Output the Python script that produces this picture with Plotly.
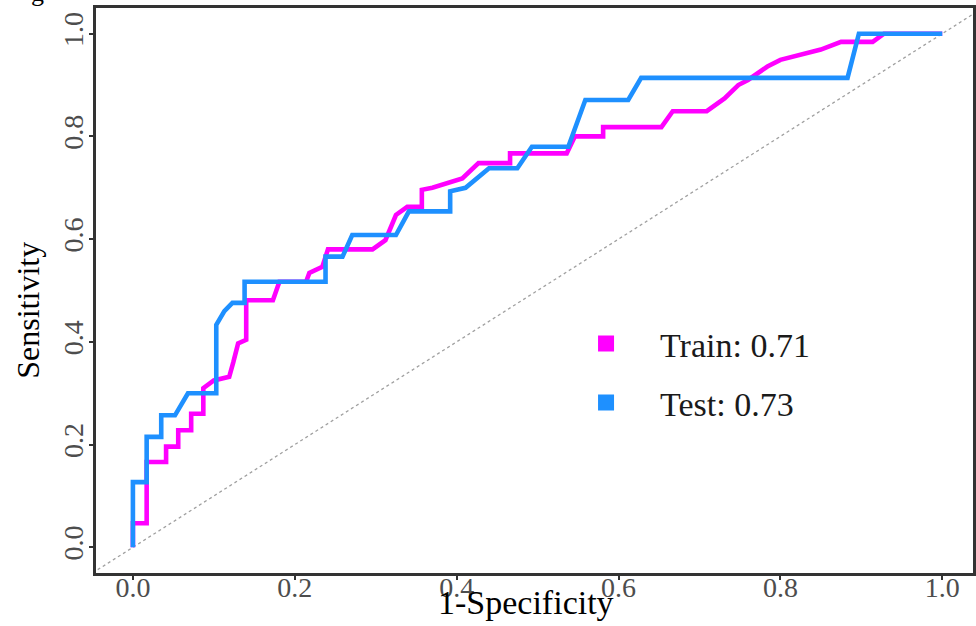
import plotly.graph_objects as go

# ---- data ----
train_fpr = [0.0, 0.0, 0.017, 0.017, 0.041, 0.041, 0.056, 0.056, 0.072, 0.072, 0.087, 0.087,
             0.100, 0.119, 0.124, 0.130, 0.140, 0.140, 0.173, 0.179, 0.181, 0.214, 0.218, 0.234,
             0.241, 0.296, 0.312, 0.325, 0.339, 0.357, 0.357, 0.370, 0.407, 0.427, 0.466, 0.466,
             0.536, 0.546, 0.581, 0.581, 0.653, 0.667, 0.709, 0.731, 0.748, 0.760, 0.784, 0.800,
             0.825, 0.850, 0.875, 0.914, 0.928, 1.0]
train_tpr = [0.0, 0.047, 0.047, 0.166, 0.166, 0.196, 0.196, 0.228, 0.228, 0.260, 0.260, 0.310,
             0.325, 0.332, 0.360, 0.397, 0.404, 0.481, 0.481, 0.507, 0.517, 0.517, 0.534, 0.546,
             0.580, 0.580, 0.598, 0.647, 0.663, 0.663, 0.696, 0.700, 0.718, 0.748, 0.748, 0.767,
             0.767, 0.800, 0.800, 0.818, 0.818, 0.849, 0.849, 0.874, 0.900, 0.910, 0.936, 0.949,
             0.959, 0.969, 0.984, 0.984, 1.0, 1.0]

test_fpr = [0.0, 0.0, 0.017, 0.017, 0.035, 0.035, 0.052, 0.068, 0.103, 0.103, 0.113, 0.123,
            0.138, 0.138, 0.238, 0.238, 0.259, 0.271, 0.325, 0.341, 0.392, 0.392, 0.411, 0.440,
            0.475, 0.493, 0.538, 0.559, 0.612, 0.628, 0.883, 0.897, 1.0]
test_tpr = [0.0, 0.127, 0.127, 0.215, 0.215, 0.257, 0.257, 0.300, 0.300, 0.433, 0.460, 0.476,
            0.476, 0.517, 0.517, 0.566, 0.566, 0.608, 0.608, 0.654, 0.654, 0.693, 0.700, 0.738,
            0.738, 0.780, 0.780, 0.871, 0.871, 0.914, 0.914, 1.0, 1.0]

ref_line = [-0.2, 1.2]
tick_vals = [0.0, 0.2, 0.4, 0.6, 0.8, 1.0]
tick_text = ["0.0", "0.2", "0.4", "0.6", "0.8", "1.0"]
train_label = "Train: 0.71"
test_label = "Test: 0.73"
x_title = "1-Specificity"
y_title = "Sensitivity"
panel_label = "g"

# ---- style ----
SERIF = "Liberation Serif, Times New Roman, serif"
MAGENTA = "#FF00FF"
BLUE = "#1E90FF"

fig = go.Figure()
fig.add_trace(go.Scatter(x=ref_line, y=ref_line, mode="lines",
                         line=dict(color="#a0a0a0", width=1.3, dash="dot"),
                         showlegend=False, hoverinfo="skip"))
fig.add_trace(go.Scatter(x=train_fpr, y=train_tpr, mode="lines",
                         line=dict(color=MAGENTA, width=4.6), showlegend=False, name=train_label))
fig.add_trace(go.Scatter(x=test_fpr, y=test_tpr, mode="lines",
                         line=dict(color=BLUE, width=4.6), showlegend=False, name=test_label))
# legend keys (square swatches)
fig.add_trace(go.Scatter(x=[None], y=[None], mode="markers", name=train_label, legendgroup="a",
                         marker=dict(symbol="square", size=16, color=MAGENTA)))
fig.add_trace(go.Scatter(x=[None], y=[None], mode="markers", name=test_label, legendgroup="b",
                         marker=dict(symbol="square", size=16, color=BLUE)))

axis_common = dict(
    showgrid=False, zeroline=False, showline=True, mirror=True,
    linecolor="#333333", linewidth=2.5,
    ticks="outside", ticklen=4, tickwidth=1.5, tickcolor="#333333",
    tickvals=tick_vals, ticktext=tick_text,
    tickfont=dict(family=SERIF, size=28, color="#4d4d4d"),
)

fig.update_layout(
    width=976, height=626,
    margin=dict(l=96, r=0, t=8, b=53),
    paper_bgcolor="white", plot_bgcolor="white",
    xaxis=dict(range=[-0.0456, 1.038], ticklabelstandoff=-16, **axis_common),
    yaxis=dict(range=[-0.05, 1.05], tickangle=-90, ticklabelstandoff=-5, **axis_common),
    legend=dict(x=0.52, y=0.457, xanchor="left", yanchor="top",
                font=dict(family=SERIF, size=34, color="#1a1a1a"),
                bgcolor="rgba(0,0,0,0)", tracegroupgap=12, itemwidth=98),
    annotations=[
        dict(text=x_title, xref="paper", yref="paper", x=0.49, y=-0.053,
             xanchor="center", yanchor="middle", showarrow=False,
             font=dict(family=SERIF, size=34, color="black")),
        dict(text=y_title, xref="paper", yref="paper", x=-0.077, y=0.465,
             xanchor="center", yanchor="middle", textangle=-90, showarrow=False,
             font=dict(family=SERIF, size=32, color="black")),
        dict(text=panel_label, xref="paper", yref="paper", x=-0.067, y=1.0,
             xanchor="center", yanchor="bottom", yshift=-1, showarrow=False,
             font=dict(family=SERIF, size=26, color="black")),
    ],
)

fig.write_html("out.html", config={"displayModeBar": False},
               post_script="document.body.style.margin='0';document.body.style.overflow='hidden';")
